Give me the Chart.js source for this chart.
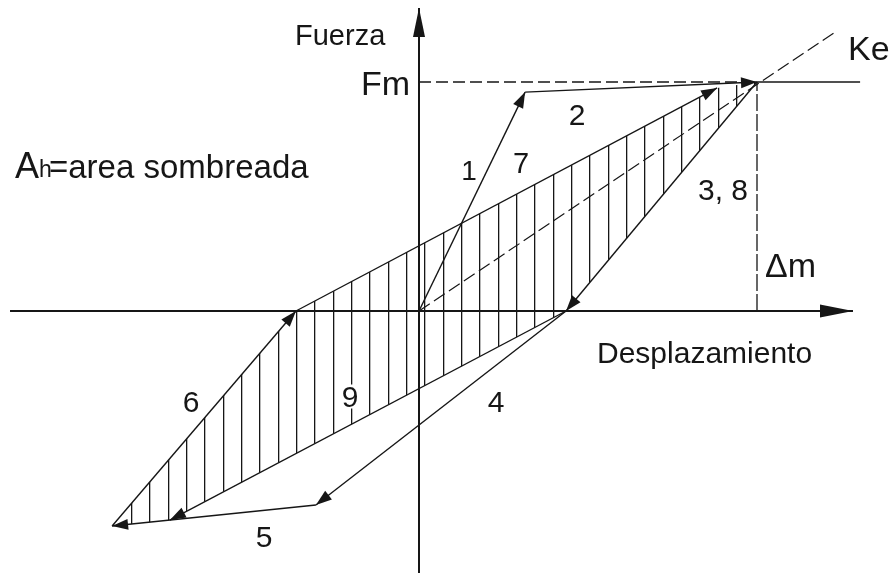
<!DOCTYPE html>
<html>
<head>
<meta charset="utf-8">
<script src="https://cdn.jsdelivr.net/npm/chart.js@4.4.0/dist/chart.umd.min.js"></script>
<style>
  html, body { margin: 0; background: #fff; }
  #wrap { width: 896px; height: 573px; position: relative; }
</style>
</head>
<body>
<div id="wrap"><canvas id="lazo"></canvas></div>
<script>
// desplazamiento en unidades de Δm, fuerza en unidades de Fm
var origen = [0, 0];
var puntoA = [0.314, 0.956];    // fin del tramo 1
var pico   = [1, 1];            // (Δm, Fm)
var puntoB = [0.435, 0];        // cruce tras la descarga 3, 8
var puntoC = [-0.305, -0.847];  // fin del tramo 4
var puntoD = [-0.908, -0.939];  // pico negativo
var puntoE = [-0.364, 0];       // cruce tras el tramo 6
var puntoF = [0.882, 0.974];    // fin del tramo 7
var puntoG = [-0.737, -0.913];  // fin del tramo 9
var finKe  = [1.231, 1.218];
var ejeX   = [-1.21, 1.284];
var ejeY   = [-1.15, 1.323];
var finFm  = 1.305;

var NEGRO = '#161616';

function xy(p) { return { x: p[0], y: p[1] }; }

function tramo(pts, extra) {
  var ds = {
    data: pts.map(xy),
    showLine: true,
    pointRadius: 0,
    borderColor: NEGRO,
    borderWidth: 1.4,
    fill: false,
    order: 0
  };
  for (var k in extra) ds[k] = extra[k];
  return ds;
}

function rayado() {
  var c = document.createElement('canvas');
  c.width = 55; c.height = 10;
  var g = c.getContext('2d');
  g.fillStyle = NEGRO;
  [0, 18, 37].forEach(function (x) { g.fillRect(x, 0, 1.3, 10); });
  var p = g.createPattern(c, 'repeat');
  p.setTransform(new DOMMatrix().translate(131, 0));
  return p;
}

var flechas = {
  id: 'flechas',
  afterDatasetsDraw: function (chart) {
    var ctx = chart.ctx;
    chart.data.datasets.forEach(function (ds, i) {
      if (!ds.flecha) return;
      var pts = chart.getDatasetMeta(i).data;
      var a = pts[pts.length - 2], b = pts[pts.length - 1];
      var ang = Math.atan2(b.y - a.y, b.x - a.x);
      var L = ds.flecha[0], W = ds.flecha[1] / 2;
      ctx.save();
      ctx.translate(b.x, b.y);
      ctx.rotate(ang);
      ctx.beginPath();
      ctx.moveTo(0, 0);
      ctx.lineTo(-L, -W);
      ctx.lineTo(-L, W);
      ctx.closePath();
      ctx.fillStyle = NEGRO;
      ctx.fill();
      ctx.restore();
    });
  }
};

var rotulos = [
  { t: 'Fuerza', x: 295, y: 45, s: 29 },
  { t: 'Fm', x: 361, y: 95, s: 34 },
  { t: 'Ke', x: 848, y: 60, s: 34 },
  { t: 'A', x: 15, y: 178, s: 36 },
  { t: 'h', x: 39, y: 177, s: 23 },
  { t: '=area sombreada', x: 49, y: 178, s: 33 },
  { t: '1', x: 469, y: 180, s: 28, c: true },
  { t: '7', x: 521, y: 173, s: 29, c: true },
  { t: '2', x: 577, y: 125, s: 30, c: true },
  { t: '3, 8', x: 698, y: 200, s: 30 },
  { t: '\u0394m', x: 765, y: 277, s: 34 },
  { t: 'Desplazamiento', x: 597, y: 363, s: 30 },
  { t: '6', x: 191, y: 412, s: 30, c: true },
  { t: '9', x: 350, y: 407, s: 30, c: true, fondo: true },
  { t: '4', x: 496, y: 412, s: 30, c: true },
  { t: '5', x: 264, y: 547, s: 30, c: true }
];

var textos = {
  id: 'textos',
  afterDraw: function (chart) {
    var ctx = chart.ctx;
    ctx.save();
    ctx.textBaseline = 'alphabetic';
    rotulos.forEach(function (r) {
      ctx.font = r.s + 'px "Liberation Sans", Arial, sans-serif';
      ctx.textAlign = r.c ? 'center' : 'left';
      if (r.fondo) {
        var w = ctx.measureText(r.t).width;
        ctx.fillStyle = '#fff';
        ctx.fillRect(r.x - w / 2 - 2, r.y - r.s * 0.75, w + 4, r.s * 0.8);
      }
      ctx.fillStyle = NEGRO;
      ctx.fillText(r.t, r.x, r.y);
    });
    ctx.restore();
  }
};

var datasets = [
  // area sombreada
  tramo([puntoE, puntoF, pico, puntoB, puntoG, puntoD, puntoE],
        { borderWidth: 0, backgroundColor: rayado(), fill: 'shape', order: 1 }),
  // ejes
  tramo([[ejeX[0], 0], [ejeX[1], 0]], { borderWidth: 2, flecha: [33, 13] }),
  tramo([[0, ejeY[0]], [0, ejeY[1]]], { borderWidth: 2, flecha: [29, 12] }),
  // rectas auxiliares
  tramo([origen, finKe], { borderDash: [13, 5], borderWidth: 1.2 }),
  tramo([[0, pico[1]], pico], { borderDash: [12, 5], borderWidth: 1.3 }),
  tramo([pico, [finFm, pico[1]]], { borderWidth: 1.5 }),
  tramo([[pico[0], 0], pico], { borderDash: [17, 3], borderWidth: 1.3 }),
  // recorrido
  tramo([origen, puntoA], { flecha: [16, 11] }),
  tramo([puntoA, pico], { flecha: [16, 11] }),
  tramo([pico, puntoB], { flecha: [16, 11] }),
  tramo([puntoB, puntoC], { flecha: [16, 11] }),
  tramo([puntoC, puntoD], { flecha: [16, 11] }),
  tramo([puntoD, puntoE], { flecha: [16, 11] }),
  tramo([puntoE, puntoF], { flecha: [16, 11] }),
  tramo([puntoB, puntoG], { flecha: [16, 11] })
];

new Chart(document.getElementById('lazo'), {
  type: 'scatter',
  data: { datasets: datasets },
  options: {
    responsive: true,
    maintainAspectRatio: false,
    animation: false,
    events: [],
    layout: { padding: 0, autoPadding: false },
    plugins: {
      legend: { display: false },
      tooltip: { enabled: false }
    },
    scales: {
      x: { type: 'linear', display: false, min: -419 / 338, max: 477 / 338 },
      y: { type: 'linear', display: false, min: -262 / 229, max: 311 / 229 }
    }
  },
  plugins: [flechas, textos]
});
</script>
</body>
</html>
